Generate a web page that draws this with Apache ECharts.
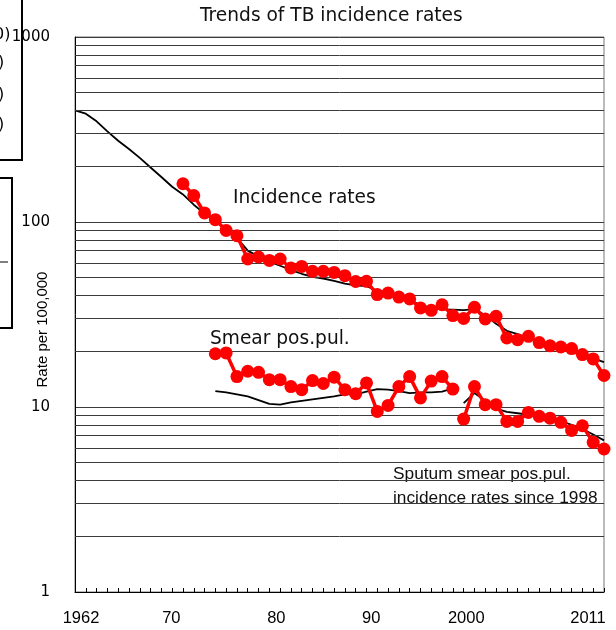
<!DOCTYPE html>
<html>
<head>
<meta charset="utf-8">
<script src="https://cdn.jsdelivr.net/npm/echarts@6/dist/echarts.min.js"></script>
<style>
html,body{margin:0;padding:0;background:#fff;}
#chart{width:616px;height:630px;}
</style>
</head>
<body>
<div id="chart"></div>
<script>
// ---- data ----
var years = ['1962','1963','1964','1965','1966','1967','1968','1969','1970','1971',
  '1972','1973','1974','1975','1976','1977','1978','1979','1980','1981',
  '1982','1983','1984','1985','1986','1987','1988','1989','1990','1991',
  '1992','1993','1994','1995','1996','1997','1998','1999','2000','2001',
  '2002','2003','2004','2005','2006','2007','2008','2009','2010','2011'];

// national trend (black line), 1962-2011
var incidenceTrend = [401,385,350,309,275,248,222,197,175,155,
  141,124,111,101,92,82,70,65,61,58,
  55,52.5,50.5,49.5,48,46.5,45.5,45,42.5,41,
  39,38,35.5,34.3,33.7,33.6,33.4,33.8,31.3,28.2,
  25.8,24.8,23.5,22.2,21,20.3,19.8,19.1,18.3,17.5];

// incidence rates (red), 1972-2011
var incidenceStart = 1972;
var incidenceRates = [161,139,112,103,90,84.3,63.1,64.7,62,63.1,
  56.4,57.5,54.1,54.1,53.4,51.3,47.7,47.8,40.5,41.3,
  39.3,38.4,34.3,33.3,35.7,31.2,30.1,34.6,29.9,30.9,
  23.6,23.1,24.1,22.3,21.4,21.1,20.7,19.2,18.2,14.8];

// smear pos. pul. trend (black), 1975-1997 and 1998-2011
var smearTrendStartA = 1975;
var smearTrendA = [12.2,12.0,11.7,11.4,10.9,10.4,10.3,10.6,10.8,11.0,
  11.2,11.4,11.7,11.7,12.1,12.5,12.4,12.2,11.9,12.0,
  12.0,12.1,12.6];
var smearTrendStartB = 1998;
var smearTrendB = [10.5,11.9,10.8,9.8,9.4,9.25,9.1,8.95,8.7,8.4,
  8.0,7.6,7.1,6.6];

// smear pos. pul. rates (red), 1975-1997 and 1998-2011
var smearStartA = 1975;
var smearA = [19.4,19.6,14.6,15.6,15.4,14.05,14.05,12.9,12.4,13.9,
  13.4,14.5,12.4,11.8,13.5,9.47,10.2,12.9,14.6,11.2,
  13.8,14.6,12.5];
var smearStartB = 1998;
var smearB = [8.6,12.9,10.3,10.3,8.36,8.36,9.35,8.9,8.7,8.26,
  7.47,7.92,6.44,5.93];

// axis labels
var xLabelYears = ['1962','1970','1980','1990','2000','2011'];
var xLabelTexts = ['1962','70','80','90','2000','2011'];
var minorGridValues = [2,3,4,5,6,7,8,9,20,30,40,50,60,70,80,90,200,300,400,500,600,700,800,900];

// ---- helpers ----
function pairs(start, vals) {
  return vals.map(function (v, i) { return [String(start + i), v]; });
}

// per-label horizontal nudges (pixels) to follow the reference's label placement
var labelShift = {'1962': 6, '1970': 10, '1980': 7, '1990': -6, '2000': -19, '2011': -16};
var rich = {};
xLabelYears.forEach(function (y) {
  var s = labelShift[y] || 0;
  rich['y' + y] = {
    fontFamily: 'Liberation Sans', fontSize: 16.5, color: '#000',
    padding: s >= 0 ? [0, 0, 0, 2 * s] : [0, -2 * s, 0, 0]
  };
});

var chart = echarts.init(document.getElementById('chart'), null, {renderer: 'canvas'});

var redColor = '#ff0000';
function redSeries(data) {
  return {
    type: 'line', data: data, z: 5,
    symbol: 'circle', symbolSize: 13, showSymbol: true,
    itemStyle: {color: redColor},
    lineStyle: {color: redColor, width: 3.5},
    animation: false, silent: true
  };
}
function blackSeries(data, extra) {
  var s = {
    type: 'line', data: data, z: 3,
    symbol: 'none', showSymbol: false,
    lineStyle: {color: '#000', width: 1.8},
    animation: false, silent: true
  };
  if (extra) { for (var k in extra) s[k] = extra[k]; }
  return s;
}

var option = {
  backgroundColor: '#fff',
  animation: false,
  title: {
    text: 'Trends of TB incidence rates',
    left: 200, top: 7, padding: 0,
    textStyle: {fontFamily: 'DejaVu Sans', fontSize: 18.6, fontWeight: 'normal', color: '#111'}
  },
  grid: {
    left: 75, right: 12, top: 37, bottom: 38,
    containLabel: false, outerBoundsMode: 'none',
    show: true, borderColor: '#777', borderWidth: 1, backgroundColor: 'transparent'
  },
  xAxis: {
    type: 'category', data: years, boundaryGap: false,
    axisLine: {lineStyle: {color: '#000', width: 1}},
    axisTick: {show: true, inside: true, length: 4, interval: 0, lineStyle: {color: '#000'}},
    axisLabel: {
      interval: 0, margin: 18,
      formatter: function (val) {
        var i = xLabelYears.indexOf(val);
        return i >= 0 ? '{y' + val + '|' + xLabelTexts[i] + '}' : '';
      },
      rich: rich
    },
    splitLine: {show: false}
  },
  yAxis: {
    type: 'log', logBase: 10, min: 1, max: 1000,
    name: 'Rate per 100,000', nameLocation: 'middle', nameGap: 25, nameRotate: 90,
    nameMoveOverlap: false,
    nameTextStyle: {fontFamily: 'Liberation Sans', fontSize: 15, color: '#000', padding: [0, 30, 0, 0]},
    axisLine: {show: true, lineStyle: {color: '#000', width: 1}},
    axisTick: {show: false},
    axisLabel: {
      fontFamily: 'DejaVu Sans', fontSize: 15, color: '#000', margin: 25,
      formatter: function (v) { return String(Math.round(v)); }
    },
    splitLine: {show: true, lineStyle: {color: '#3a3a3a', width: 1}},
    minorTick: {show: false},
    minorSplitLine: {show: false}
  },
  graphic: [
    {type: 'text', x: 233, y: 198, style: {text: 'Incidence rates', font: '18.6px "DejaVu Sans"', fill: '#111', verticalAlign: 'middle', align: 'left'}},
    {type: 'text', x: 210, y: 339, style: {text: 'Smear pos.pul.', font: '18.6px "DejaVu Sans"', fill: '#111', verticalAlign: 'middle', align: 'left'}},
    {type: 'text', x: 393, y: 474, style: {text: 'Sputum smear pos.pul.', font: '17.3px "Liberation Sans"', fill: '#111', verticalAlign: 'middle', align: 'left'}},
    {type: 'text', x: 393, y: 498, style: {text: 'incidence rates since 1998', font: '17.3px "Liberation Sans"', fill: '#111', verticalAlign: 'middle', align: 'left'}},
    // fragments of the neighbouring panel cut off at the left edge
    {type: 'polyline', shape: {points: [[0, 160], [22, 160], [22, 0]]}, style: {stroke: '#000', lineWidth: 2, fill: null}},
    {type: 'polyline', shape: {points: [[0, 178], [12, 178], [12, 328], [0, 328]]}, style: {stroke: '#000', lineWidth: 2, fill: null}},
    {type: 'line', shape: {x1: 0, y1: 262, x2: 8, y2: 262}, style: {stroke: '#000', lineWidth: 1}},
    {type: 'text', x: -6, y: 35, style: {text: '0)', font: '16px "DejaVu Sans"', fill: '#000', verticalAlign: 'middle'}},
    {type: 'text', x: -2, y: 63, style: {text: ')', font: '16px "DejaVu Sans"', fill: '#000', verticalAlign: 'middle'}},
    {type: 'text', x: -2, y: 95, style: {text: ')', font: '16px "DejaVu Sans"', fill: '#000', verticalAlign: 'middle'}},
    {type: 'text', x: -2, y: 125, style: {text: ')', font: '16px "DejaVu Sans"', fill: '#000', verticalAlign: 'middle'}}
  ],
  series: [
    blackSeries(pairs(1962, incidenceTrend), {
      markLine: {
        silent: true, symbol: 'none', animation: false,
        label: {show: false},
        lineStyle: {color: '#3a3a3a', width: 1, type: 'solid'},
        emphasis: {disabled: true},
        data: minorGridValues.map(function (v) { return {yAxis: v}; })
      }
    }),
    blackSeries(pairs(smearTrendStartA, smearTrendA)),
    blackSeries(pairs(smearTrendStartB, smearTrendB)),
    redSeries(pairs(incidenceStart, incidenceRates)),
    redSeries(pairs(smearStartA, smearA)),
    redSeries(pairs(smearStartB, smearB))
  ]
};
chart.setOption(option);
</script>
</body>
</html>
